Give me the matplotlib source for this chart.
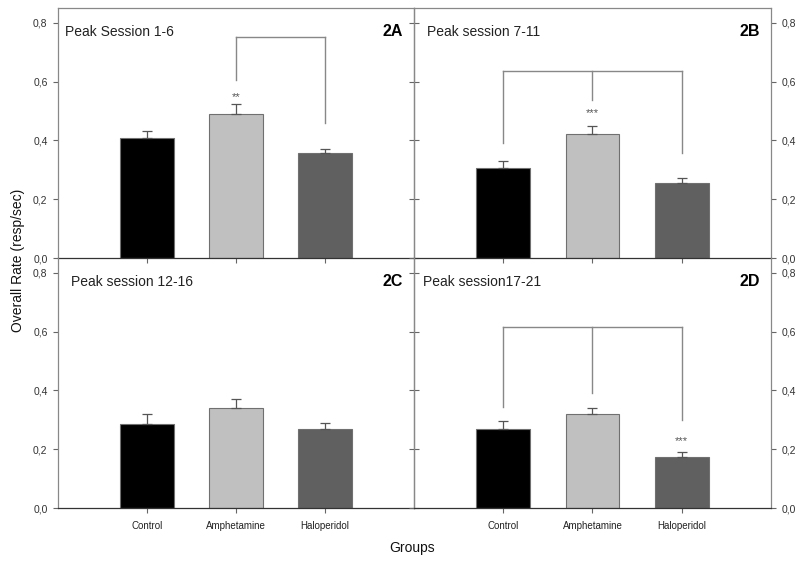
import matplotlib
matplotlib.use("Agg")
import matplotlib.pyplot as plt

plt.rcParams['font.family'] = ['Liberation Sans', 'DejaVu Sans']

groups = ["Control", "Amphetamine", "Haloperidol"]
panel_titles = ["Peak Session 1-6", "Peak session 7-11", "Peak session 12-16", "Peak session17-21"]
panel_tags = ["2A", "2B", "2C", "2D"]

means_2a = [0.410, 0.490, 0.356]
errs_2a = [0.022, 0.035, 0.016]
means_2b = [0.308, 0.422, 0.254]
errs_2b = [0.023, 0.028, 0.019]
means_2c = [0.287, 0.340, 0.270]
errs_2c = [0.032, 0.032, 0.020]
means_2d = [0.268, 0.321, 0.173]
errs_2d = [0.028, 0.018, 0.019]

ytick_values = [0.0, 0.2, 0.4, 0.6, 0.8]
ytick_labels = ["0,0", "0,2", "0,4", "0,6", "0,8"]

# significance markers: (group index, y, text)
stars_2a = [(1, 0.548, "**")]
stars_2b = [(1, 0.492, "***")]
stars_2c = []
stars_2d = [(2, 0.228, "***")]

# brackets: top y, and list of (group index, leg bottom y)
bracket_2a = (0.752, [(1, 0.607), (2, 0.459)])
bracket_2b = (0.635, [(0, 0.390), (1, 0.538), (2, 0.356)])
bracket_2c = None
bracket_2d = (0.617, [(0, 0.344), (1, 0.392), (2, 0.299)])

bar_colors = ["#000000", "#c0c0c0", "#606060"]

fig = plt.figure(figsize=(8, 5.76), dpi=100)
W, H = 800, 576
pos = {
    0: (58, 8, 356, 250),
    1: (414, 8, 357, 250),
    2: (58, 258, 356, 250),
    3: (414, 258, 357, 250),
}

panels = [
    (means_2a, errs_2a, stars_2a, bracket_2a),
    (means_2b, errs_2b, stars_2b, bracket_2b),
    (means_2c, errs_2c, stars_2c, bracket_2c),
    (means_2d, errs_2d, stars_2d, bracket_2d),
]

for i, (means, errs, stars, bracket) in enumerate(panels):
    x0, y0, w, h = pos[i]
    ax = fig.add_axes([x0 / W, 1 - (y0 + h) / H, w / W, h / H])
    ax.patch.set_alpha(0)
    xs = [1, 2, 3]
    ax.bar(xs, means, width=0.6, color=bar_colors, edgecolor="#707070", linewidth=0.8, zorder=2)
    for x, m, e in zip(xs, means, errs):
        ax.errorbar([x], [m], yerr=[[0], [e]], fmt="none", ecolor="#555555",
                    elinewidth=0.9, capsize=3.5, capthick=0.9, zorder=3)
    for gi, yy, s in stars:
        ax.text(xs[gi], yy, s, ha="center", va="center", fontsize=8, color="#555555")
    if bracket is not None:
        top, legs = bracket
        lx = [xs[g] for g, _ in legs]
        ax.plot([min(lx), max(lx)], [top, top], color="#888888", lw=1.0, zorder=1)
        for g, b in legs:
            ax.plot([xs[g], xs[g]], [b, top], color="#888888", lw=1.0, zorder=1)
    ax.set_xlim(0, 4)
    ax.set_ylim(0, 0.851)
    ax.set_yticks(ytick_values)
    ax.set_xticks(xs)
    ax.tick_params(axis="both", direction="out", length=3.5, width=0.8, colors="#666666",
                   labelcolor="#333333", labelsize=7.5)
    ax.tick_params(axis="y", left=True, right=True, pad=4)
    ax.set_yticklabels(ytick_labels)
    if i in (0, 2):
        ax.tick_params(axis="y", labelleft=True, labelright=False)
    else:
        ax.tick_params(axis="y", labelleft=False, labelright=True)
    if i in (2, 3):
        ax.set_xticklabels(groups, fontsize=7, color="#222222")
        ax.tick_params(axis="x", pad=6)
    else:
        ax.set_xticklabels([])
    for sname, sp in ax.spines.items():
        sp.set_color("#888888")
        sp.set_linewidth(0.9)
    ax.spines["bottom"].set_color("#333333")
    if i in (2, 3):
        ax.spines["top"].set_visible(False)
    tx = [0.02, 0.036, 0.037, 0.026][i]
    ax.text(tx, 0.905, panel_titles[i], transform=ax.transAxes, ha="left", va="center",
            fontsize=10, color="#222222")
    ax.text(0.97, 0.905, panel_tags[i], transform=ax.transAxes, ha="right", va="center",
            fontsize=11.5, fontweight="bold", color="#000000")

fig.text(18 / W, 1 - 260 / H, "Overall Rate (resp/sec)", rotation=90, ha="center", va="center",
         fontsize=10, color="#111111")
fig.text(412 / W, 1 - 548 / H, "Groups", ha="center", va="center", fontsize=10, color="#111111")

fig.savefig("out.png", dpi=100)
